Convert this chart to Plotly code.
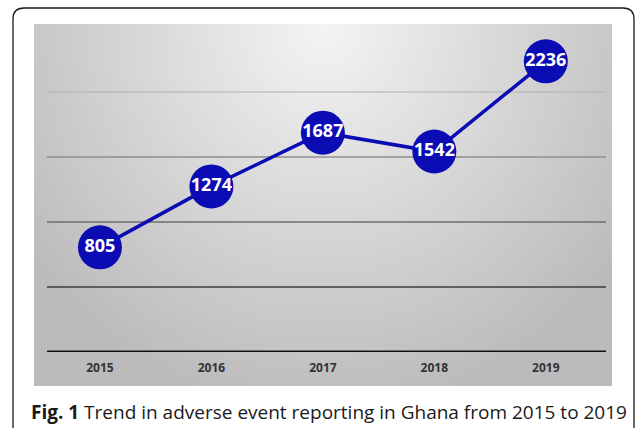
import base64
import struct
import zlib

import numpy as np
import plotly.graph_objects as go

# ---------------- data ----------------
years = ["2015", "2016", "2017", "2018", "2019"]
reports = [805, 1274, 1687, 1542, 2236]
grid_values = [0, 500, 1000, 1500, 2000]
grid_colors = ["#111111", "#3c3c3c", "#6e6e6e", "#8e8e8e", "#b0b0b0"]
grid_widths = [3, 1.6, 1.4, 1.3, 1.2]

caption = "<b>Fig. 1</b> Trend in adverse event reporting in Ghana from 2015 to 2019"

W, H = 636, 428
ML, MR, MT, MB = 47, 30, 24, 76
PW, PH = W - ML - MR, H - MT - MB
Y_TOP = 2000 * PH / (352 - 92)  # scale so 0 at baseline, 2000 at the top gridline


def px_x(p):
    return (p - ML) / PW


def px_y(p):
    return (H - MB - p) / PH


# ---------------- gradient background image ----------------
def gradient_png(w=120, h=80):
    xs = np.linspace(0, 1, w)
    ys = np.linspace(0, 1, h)
    X, Y = np.meshgrid(xs, ys)
    d = np.sqrt(((X - 0.5) / 0.65) ** 2 + (Y / 1.1) ** 2)
    v = 245 - 58 * np.clip(d, 0, 1)
    v = np.clip(v, 0, 255).astype(np.uint8)
    rgb = np.stack([v, v, v], axis=-1)
    raw = b"".join(b"\x00" + rgb[r].tobytes() for r in range(h))

    def chunk(tag, data):
        c = struct.pack(">I", len(data)) + tag + data
        return c + struct.pack(">I", zlib.crc32(tag + data) & 0xFFFFFFFF)

    png = b"\x89PNG\r\n\x1a\n"
    png += chunk(b"IHDR", struct.pack(">IIBBBBB", w, h, 8, 2, 0, 0, 0))
    png += chunk(b"IDAT", zlib.compress(raw, 9))
    png += chunk(b"IEND", b"")
    return "data:image/png;base64," + base64.b64encode(png).decode()


fig = go.Figure()

fig.add_trace(
    go.Scatter(
        x=years,
        y=reports,
        mode="lines+markers+text",
        text=[str(v) for v in reports],
        textposition="middle center",
        textfont=dict(family="Open Sans", size=18, color="white", weight=700),
        line=dict(color="#0c0cb4", width=3.5),
        marker=dict(size=44, color="#0c0cb4", line=dict(width=0)),
        hoverinfo="skip",
        cliponaxis=False,
        showlegend=False,
    )
)

shapes = []
for val, col, wd in zip(grid_values, grid_colors, grid_widths):
    shapes.append(
        dict(
            type="line",
            xref="paper",
            yref="y",
            x0=0,
            x1=1,
            y0=val,
            y1=val,
            line=dict(color=col, width=wd),
            layer="between",
        )
    )

# rounded outer frame
fx0, fx1, fy0, fy1, r = 13, 634, 8, 440, 11
path = (
    f"M {px_x(fx0)},{px_y(fy1)} L {px_x(fx0)},{px_y(fy0 + r)} "
    f"Q {px_x(fx0)},{px_y(fy0)} {px_x(fx0 + r)},{px_y(fy0)} "
    f"L {px_x(fx1 - r)},{px_y(fy0)} "
    f"Q {px_x(fx1)},{px_y(fy0)} {px_x(fx1)},{px_y(fy0 + r)} "
    f"L {px_x(fx1)},{px_y(fy1)}"
)
shapes.append(
    dict(type="path", xref="paper", yref="paper", path=path,
         line=dict(color="#1a1a1a", width=1.3), layer="above")
)

bg_x0, bg_x1, bg_y0, bg_y1 = 34, 612, 24, 386

fig.update_layout(
    width=W,
    height=H,
    margin=dict(l=ML, r=MR, t=MT, b=MB),
    paper_bgcolor="white",
    plot_bgcolor="rgba(0,0,0,0)",
    shapes=shapes,
    images=[
        dict(
            source=gradient_png(),
            xref="paper",
            yref="paper",
            x=px_x(bg_x0),
            y=px_y(bg_y0),
            sizex=px_x(bg_x1) - px_x(bg_x0),
            sizey=px_y(bg_y0) - px_y(bg_y1),
            xanchor="left",
            yanchor="top",
            sizing="stretch",
            layer="below",
        )
    ],
    xaxis=dict(
        type="category",
        range=[-0.475, 4.54],
        showgrid=False,
        zeroline=False,
        showline=False,
        ticks="",
        ticklabelstandoff=7,
        tickfont=dict(family="Open Sans", size=12, color="#333333", weight=700),
    ),
    yaxis=dict(
        range=[0, Y_TOP],
        showgrid=False,
        zeroline=False,
        showline=False,
        showticklabels=False,
        ticks="",
    ),
    annotations=[
        dict(
            text=caption,
            xref="paper",
            yref="paper",
            x=px_x(29),
            y=px_y(412),
            xanchor="left",
            yanchor="middle",
            showarrow=False,
            font=dict(family="Open Sans", size=19, color="#1a1a1a"),
        )
    ],
)

fig.write_html("out.html")
